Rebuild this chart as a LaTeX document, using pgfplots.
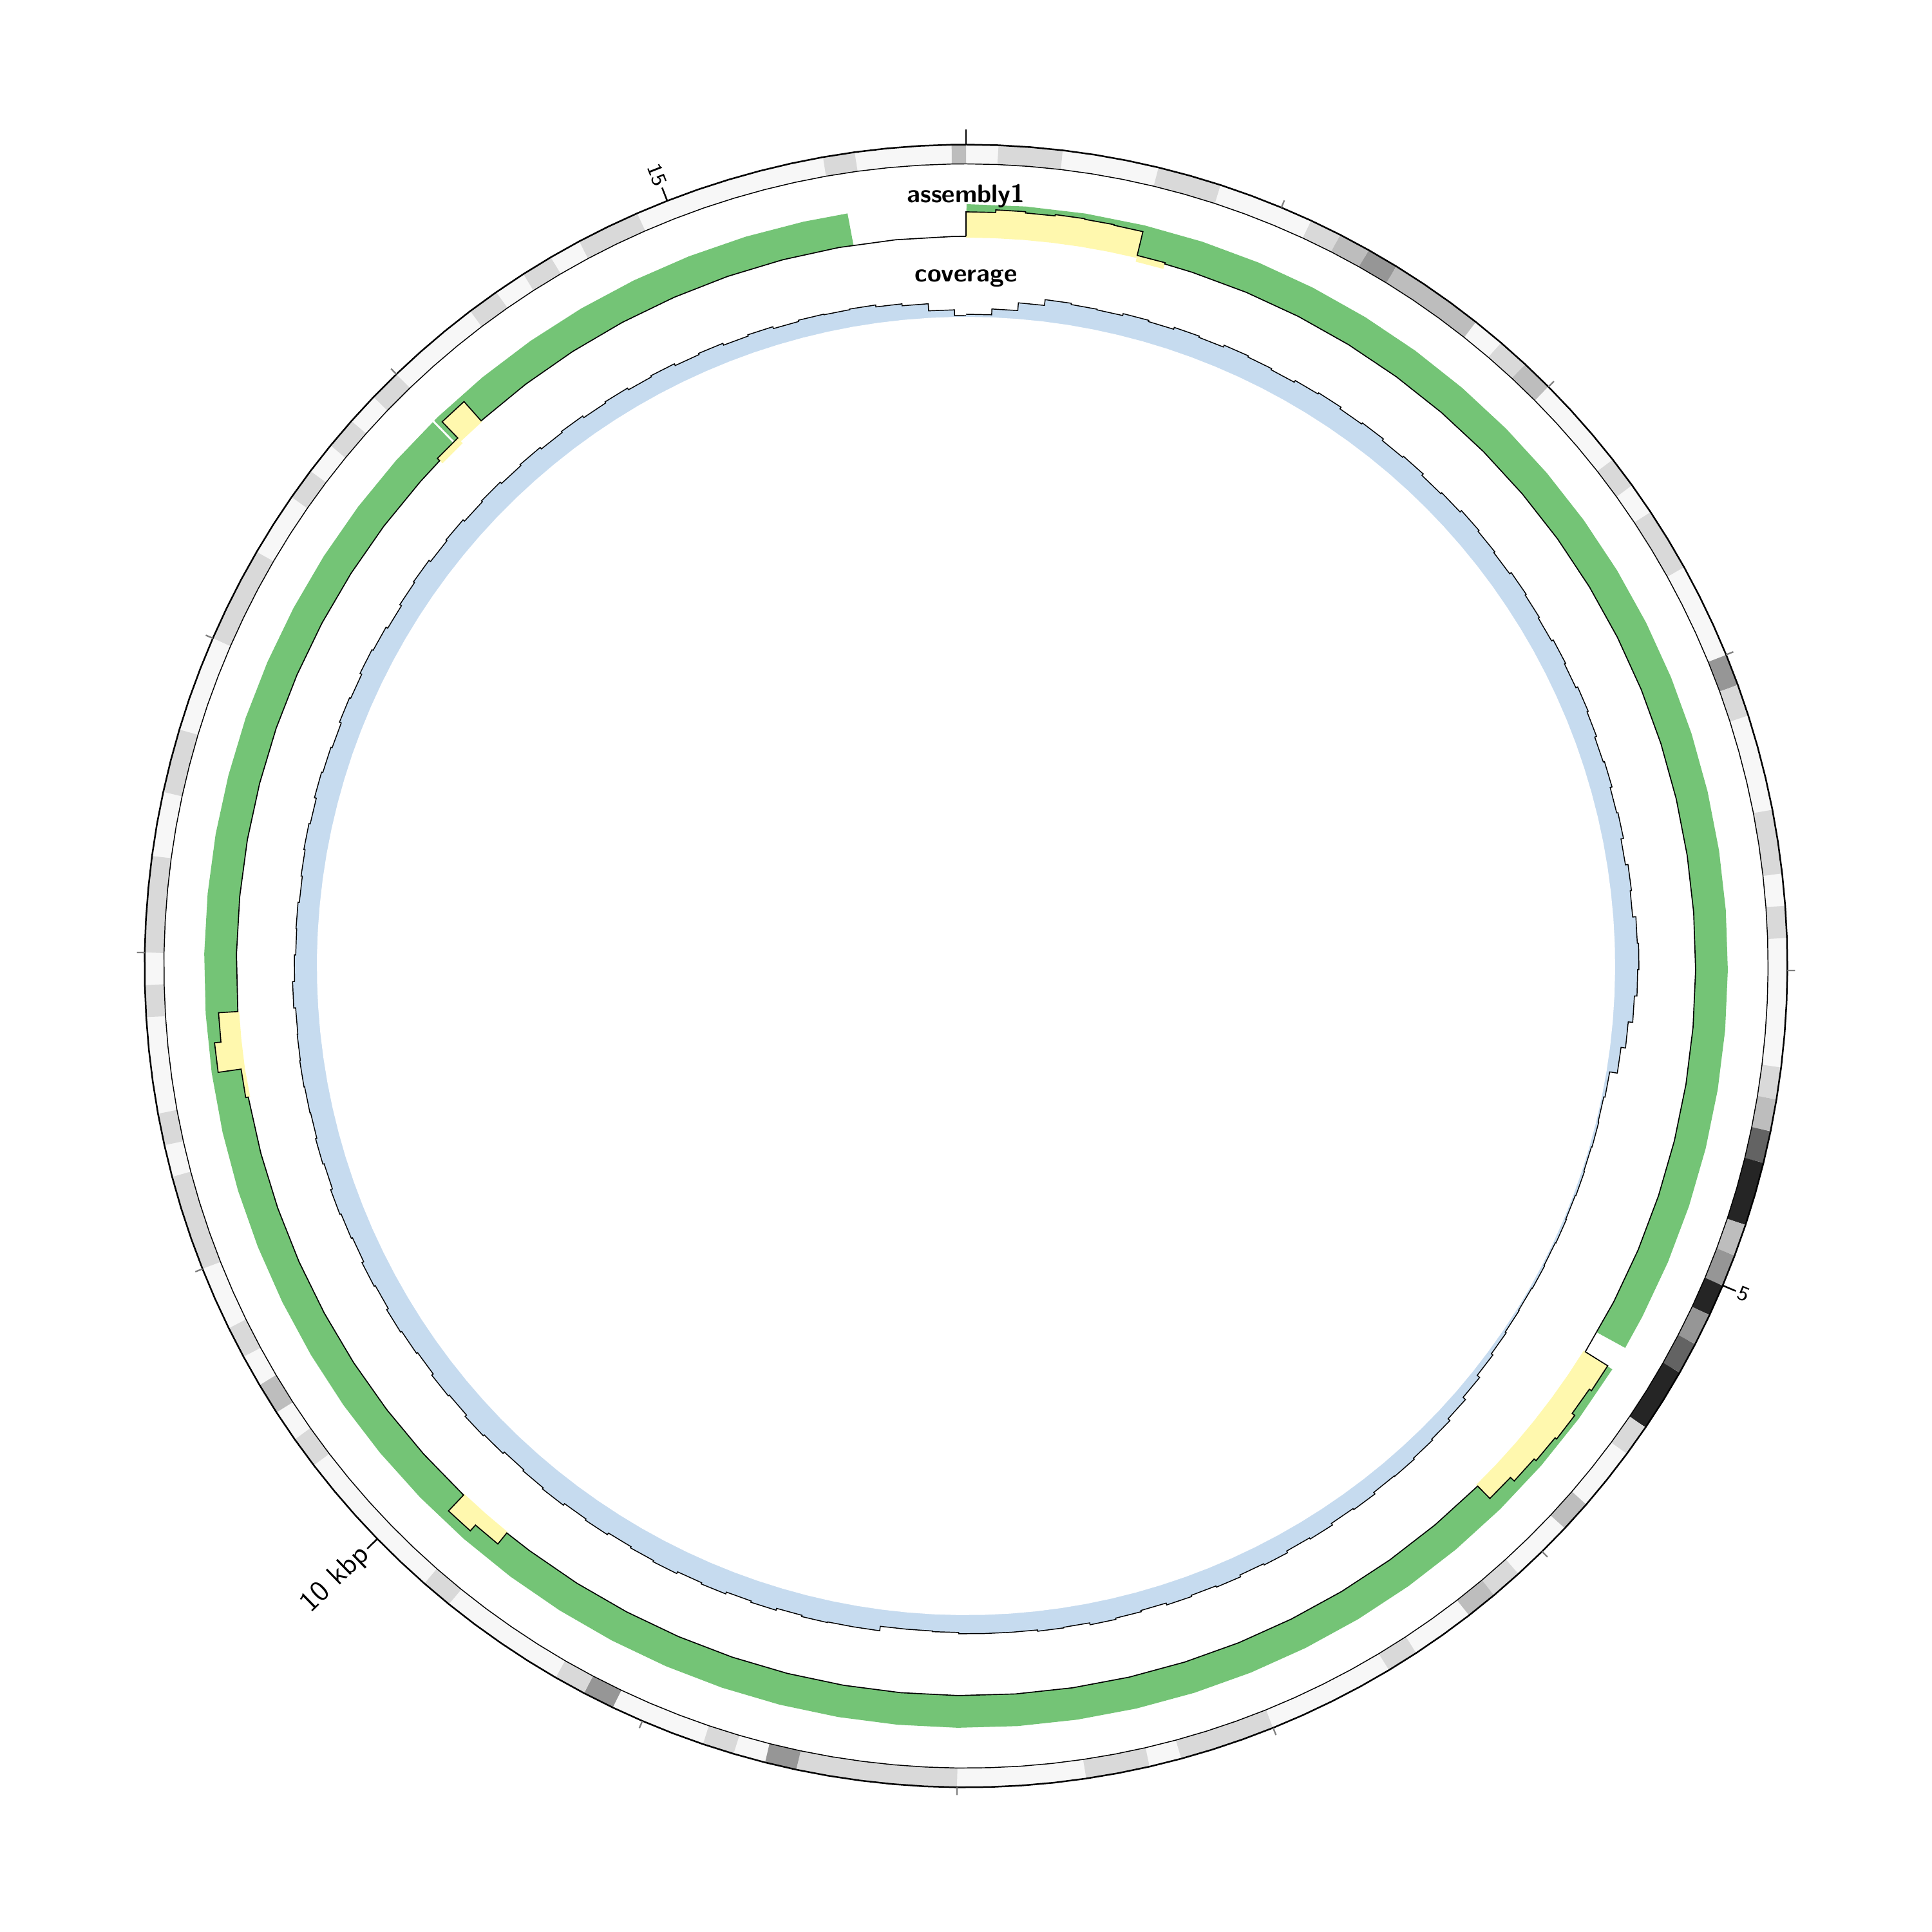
\documentclass[border=0pt]{standalone}
\usepackage{fontspec}
\usepackage{pgfplots}
\usepackage{pgfplotstable}
\pgfplotsset{compat=1.18}
\def\kfac{22.578}
\definecolor{gF}{HTML}{F7F7F7}
\definecolor{gD}{HTML}{D9D9D9}
\definecolor{gB}{HTML}{BDBDBD}
\definecolor{g9}{HTML}{969696}
\definecolor{g6}{HTML}{636363}
\definecolor{g2}{HTML}{252525}
\definecolor{grn}{HTML}{74C476}
\definecolor{yel}{HTML}{FFF8AE}
\definecolor{blu}{HTML}{C6DBEF}
\pgfplotsset{
  table/pr/.style={x expr={\thisrow{r}*sin(\thisrow{p}*\kfac)}, y expr={\thisrow{r}*cos(\thisrow{p}*\kfac)}},
  table/arc/.style={x index=0, y index=0, x expr={#1*sin(\thisrow{p}*\kfac)}, y expr={#1*cos(\thisrow{p}*\kfac)}},
}
\newcommand\seg[2]{\addplot[line width=7.2pt,#1] table[arc=1260.5,row sep=\\]{p\\#2};}
% positions (kbp) of 0.1-kbp bins
\pgfplotstableread[row sep=\\]{p\\
0\\0.1\\0.2\\0.3\\0.4\\0.5\\0.6\\0.7\\0.8\\0.9\\1.0\\1.1\\1.2\\1.3\\1.4\\1.5\\1.6\\1.7\\1.8\\1.9\\
2.0\\2.1\\2.2\\2.3\\2.4\\2.5\\2.6\\2.7\\2.8\\2.9\\3.0\\3.1\\3.2\\3.3\\3.4\\3.5\\3.6\\3.7\\3.8\\3.9\\
4.0\\4.1\\4.2\\4.3\\4.4\\4.5\\4.6\\4.7\\4.8\\4.9\\5.0\\5.1\\5.2\\5.3\\5.4\\5.5\\5.6\\5.7\\5.8\\5.9\\
6.0\\6.1\\6.2\\6.3\\6.4\\6.5\\6.6\\6.7\\6.8\\6.9\\7.0\\7.1\\7.2\\7.3\\7.4\\7.5\\7.6\\7.7\\7.8\\7.9\\
8.0\\8.1\\8.2\\8.3\\8.4\\8.5\\8.6\\8.7\\8.8\\8.9\\9.0\\9.1\\9.2\\9.3\\9.4\\9.5\\9.6\\9.7\\9.8\\9.9\\
10.0\\10.1\\10.2\\10.3\\10.4\\10.5\\10.6\\10.7\\10.8\\10.9\\11.0\\11.1\\11.2\\11.3\\11.4\\11.5\\11.6\\11.7\\11.8\\11.9\\
12.0\\12.1\\12.2\\12.3\\12.4\\12.5\\12.6\\12.7\\12.8\\12.9\\13.0\\13.1\\13.2\\13.3\\13.4\\13.5\\13.6\\13.7\\13.8\\13.9\\
14.0\\14.1\\14.2\\14.3\\14.4\\14.5\\14.6\\14.7\\14.8\\14.9\\15.0\\15.1\\15.2\\15.3\\15.4\\15.5\\15.6\\15.7\\15.8\\15.9\\15.945\\
}\ptab
% coverage step outline (radius of the histogram top)
\pgfplotstableread[row sep=\\]{p r\\
0 1012\\0.1 1012\\0.1 1021\\0.2 1021\\0.2 1033\\0.3 1033\\0.3 1042\\0.4 1042\\0.4 1040\\0.5 1040\\
0.5 1039\\0.6 1039\\0.6 1042\\0.7 1042\\0.7 1040\\0.8 1040\\0.8 1043\\0.9 1043\\0.9 1041\\1.0 1041\\
1.0 1044\\1.1 1044\\1.1 1042\\1.2 1042\\1.2 1040\\1.3 1040\\1.3 1043\\1.4 1043\\1.4 1045\\1.5 1045\\
1.5 1042\\1.6 1042\\1.6 1044\\1.7 1044\\1.7 1041\\1.8 1041\\1.8 1043\\1.9 1043\\1.9 1040\\2.0 1040\\
2.0 1042\\2.1 1042\\2.1 1045\\2.2 1045\\2.2 1043\\2.3 1043\\2.3 1041\\2.4 1041\\2.4 1044\\2.5 1044\\
2.5 1042\\2.6 1042\\2.6 1040\\2.7 1040\\2.7 1043\\2.8 1043\\2.8 1041\\2.9 1041\\2.9 1044\\3.0 1044\\
3.0 1042\\3.1 1042\\3.1 1039\\3.2 1039\\3.2 1041\\3.3 1041\\3.3 1038\\3.4 1038\\3.4 1040\\3.5 1040\\
3.5 1036\\3.6 1036\\3.6 1040\\3.7 1040\\3.7 1038\\3.8 1038\\3.8 1043\\3.9 1043\\3.9 1045\\4.0 1045\\
4.0 1043\\4.1 1043\\4.1 1039\\4.2 1039\\4.2 1032\\4.3 1032\\4.3 1025\\4.4 1025\\4.4 1013\\4.5 1013\\
4.5 1011\\4.6 1011\\4.6 1012\\4.7 1012\\4.7 1011\\4.8 1011\\4.8 1012\\4.9 1012\\4.9 1011\\5.0 1011\\
5.0 1012\\5.1 1012\\5.1 1011\\5.2 1011\\5.2 1012\\5.3 1012\\5.3 1011\\5.4 1011\\5.4 1012\\5.5 1012\\
5.5 1014\\5.6 1014\\5.6 1017\\5.7 1017\\5.7 1022\\5.8 1022\\5.8 1027\\5.9 1027\\5.9 1031\\6.0 1031\\
6.0 1033\\6.1 1033\\6.1 1035\\6.2 1035\\6.2 1034\\6.3 1034\\6.3 1037\\6.4 1037\\6.4 1035\\6.5 1035\\
6.5 1038\\6.6 1038\\6.6 1036\\6.7 1036\\6.7 1039\\6.8 1039\\6.8 1037\\6.9 1037\\6.9 1040\\7.0 1040\\
7.0 1038\\7.1 1038\\7.1 1040\\7.2 1040\\7.2 1037\\7.3 1037\\7.3 1039\\7.4 1039\\7.4 1041\\7.5 1041\\
7.5 1038\\7.6 1038\\7.6 1039\\7.7 1039\\7.7 1037\\7.8 1037\\7.8 1037\\7.9 1037\\7.9 1037\\8.0 1037\\
8.0 1035\\8.1 1035\\8.1 1034\\8.2 1034\\8.2 1034\\8.3 1034\\8.3 1041\\8.4 1041\\8.4 1041\\8.5 1041\\
8.5 1042\\8.6 1042\\8.6 1040\\8.7 1040\\8.7 1043\\8.8 1043\\8.8 1041\\8.9 1041\\8.9 1044\\9.0 1044\\
9.0 1042\\9.1 1042\\9.1 1045\\9.2 1045\\9.2 1043\\9.3 1043\\9.3 1041\\9.4 1041\\9.4 1044\\9.5 1044\\
9.5 1042\\9.6 1042\\9.6 1045\\9.7 1045\\9.7 1043\\9.8 1043\\9.8 1041\\9.9 1041\\9.9 1044\\10.0 1044\\
10.0 1046\\10.1 1046\\10.1 1043\\10.2 1043\\10.2 1045\\10.3 1045\\10.3 1042\\10.4 1042\\10.4 1044\\10.5 1044\\
10.5 1046\\10.6 1046\\10.6 1043\\10.7 1043\\10.7 1045\\10.8 1045\\10.8 1042\\10.9 1042\\10.9 1044\\11.0 1044\\
11.0 1046\\11.1 1046\\11.1 1043\\11.2 1043\\11.2 1045\\11.3 1045\\11.3 1043\\11.4 1043\\11.4 1044\\11.5 1044\\
11.5 1045\\11.6 1045\\11.6 1044\\11.7 1044\\11.7 1043\\11.8 1043\\11.8 1046\\11.9 1046\\11.9 1043\\12.0 1043\\
12.0 1041\\12.1 1041\\12.1 1042\\12.2 1042\\12.2 1040\\12.3 1040\\12.3 1042\\12.4 1042\\12.4 1044\\12.5 1044\\
12.5 1042\\12.6 1042\\12.6 1045\\12.7 1045\\12.7 1043\\12.8 1043\\12.8 1041\\12.9 1041\\12.9 1044\\13.0 1044\\
13.0 1042\\13.1 1042\\13.1 1045\\13.2 1045\\13.2 1043\\13.3 1043\\13.3 1040\\13.4 1040\\13.4 1043\\13.5 1043\\
13.5 1045\\13.6 1045\\13.6 1042\\13.7 1042\\13.7 1044\\13.8 1044\\13.8 1041\\13.9 1041\\13.9 1043\\14.0 1043\\
14.0 1040\\14.1 1040\\14.1 1042\\14.2 1042\\14.2 1039\\14.3 1039\\14.3 1041\\14.4 1041\\14.4 1038\\14.5 1038\\
14.5 1040\\14.6 1040\\14.6 1037\\14.7 1037\\14.7 1039\\14.8 1039\\14.8 1036\\14.9 1036\\14.9 1038\\15.0 1038\\
15.0 1035\\15.1 1035\\15.1 1037\\15.2 1037\\15.2 1034\\15.3 1034\\15.3 1036\\15.4 1036\\15.4 1035\\15.5 1035\\
15.5 1036\\15.6 1036\\15.6 1033\\15.7 1033\\15.7 1030\\15.8 1030\\15.8 1019\\15.9 1019\\15.9 1010\\15.945 1010\\
}\covtab
% assembly1 track: step line (value radius)
\pgfplotstableread[row sep=\\]{p r\\
0 1133\\0 1171\\0.1 1171\\0.1 1175\\0.2 1175\\0.2 1173\\0.3 1173\\0.3 1175\\0.4 1175\\0.4 1174\\0.5 1174\\0.5 1173\\0.6 1173\\0.6 1135\\0.7 1135\\0.7 1133\\
0.8 1133\\1.0 1133\\1.2 1133\\1.4 1133\\1.6 1133\\1.8 1133\\2.0 1133\\2.2 1133\\2.4 1133\\2.6 1133\\2.8 1133\\3.0 1133\\3.2 1133\\3.4 1133\\3.6 1133\\3.8 1133\\4.0 1133\\4.2 1133\\4.4 1133\\4.6 1133\\4.8 1133\\5.0 1133\\5.2 1133\\5.4 1133\\
5.4 1174\\5.5 1174\\5.5 1170\\5.6 1170\\5.6 1175\\5.7 1175\\5.7 1172\\5.8 1172\\5.8 1168\\5.9 1168\\5.9 1160\\6.0 1160\\6.0 1133\\
6.2 1133\\6.4 1133\\6.6 1133\\6.8 1133\\7.0 1133\\7.2 1133\\7.4 1133\\7.6 1133\\7.8 1133\\8.0 1133\\8.2 1133\\8.4 1133\\8.6 1133\\8.8 1133\\9.0 1133\\9.2 1133\\9.4 1133\\9.6 1133\\9.7 1133\\
9.7 1155\\9.8 1155\\9.8 1167\\9.9 1167\\9.9 1133\\
10.1 1133\\10.3 1133\\10.5 1133\\10.7 1133\\10.9 1133\\11.1 1133\\11.3 1133\\11.5 1133\\
11.5 1137\\11.6 1137\\11.6 1173\\11.7 1173\\11.7 1163\\11.8 1163\\11.8 1133\\
12.0 1133\\12.2 1133\\12.4 1133\\12.6 1133\\12.8 1133\\13.0 1133\\13.2 1133\\13.4 1133\\13.6 1133\\13.8 1133\\13.9 1133\\
13.9 1138\\14.0 1138\\14.0 1173\\14.1 1173\\14.1 1133\\
14.3 1133\\14.5 1133\\14.7 1133\\14.9 1133\\15.1 1133\\15.3 1133\\15.5 1133\\15.7 1133\\15.9 1133\\15.945 1133\\
}\vtab
\begin{document}
\begin{tikzpicture}
\begin{axis}[width=720pt, height=720pt, scale only axis,
  xmin=-1500, xmax=1500, ymin=-1500, ymax=1500,
  hide axis, clip=false, no markers]
\addplot[draw=none] coordinates {(-1500,-1500) (1500,1500)};
% ---- outer GC-like band ----
\addplot[line width=7.2pt, gF] table[arc=1260.5] {\ptab};
\seg{gD}{0.1\\0.2\\0.3\\}
\seg{gD}{0.6\\0.7\\0.8\\}
\seg{gD}{1.1\\1.2\\}
\seg{gB}{1.2\\1.3\\}
\seg{g9}{1.3\\1.4\\}
\seg{gB}{1.4\\1.5\\1.6\\1.7\\}
\seg{gD}{1.8\\1.9\\}
\seg{gB}{1.9\\2.0\\}
\seg{gD}{2.3\\2.4\\}
\seg{gD}{2.5\\2.6\\2.7\\}
\seg{g9}{3.0\\3.1\\}
\seg{gD}{3.1\\3.2\\}
\seg{gD}{3.5\\3.6\\3.7\\}
\seg{gD}{3.8\\3.9\\}
\seg{gD}{4.3\\4.4\\}
\seg{gB}{4.4\\4.5\\}
\seg{g6}{4.5\\4.6\\}
\seg{g2}{4.6\\4.7\\4.8\\}
\seg{gB}{4.8\\4.9\\}
\seg{g9}{4.9\\5.0\\}
\seg{g2}{5.0\\5.1\\}
\seg{g9}{5.1\\5.2\\}
\seg{g6}{5.2\\5.3\\}
\seg{g2}{5.3\\5.4\\5.5\\}
\seg{gD}{5.5\\5.6\\}
\seg{gB}{5.8\\5.9\\}
\seg{gD}{6.1\\6.2\\}
\seg{gB}{6.2\\6.3\\}
\seg{gD}{6.5\\6.6\\}
\seg{gD}{7.0\\7.1\\7.2\\7.3\\}
\seg{gD}{7.4\\7.5\\7.6\\}
\seg{gD}{8.0\\8.1\\8.2\\8.3\\8.4\\8.5\\}
\seg{g9}{8.5\\8.6\\}
\seg{gD}{8.7\\8.8\\}
\seg{g9}{9.1\\9.2\\}
\seg{gD}{9.2\\9.3\\}
\seg{gD}{9.7\\9.8\\}
\seg{gD}{10.3\\10.4\\}
\seg{gB}{10.5\\10.6\\}
\seg{gD}{10.7\\10.8\\}
\seg{gD}{11.0\\11.1\\11.2\\11.3\\}
\seg{gD}{11.4\\11.5\\}
\seg{gD}{11.8\\11.9\\}
\seg{gD}{12.0\\12.1\\12.2\\12.3\\}
\seg{gD}{12.5\\12.6\\12.7\\}
\seg{gD}{13.0\\13.1\\13.2\\13.3\\}
\seg{gD}{13.5\\13.6\\}
\seg{gD}{13.7\\13.8\\}
\seg{gD}{13.9\\14.0\\}
\seg{gD}{14.3\\14.4\\}
\seg{gD}{14.5\\14.6\\}
\seg{gD}{14.7\\14.8\\14.9\\}
\seg{gD}{15.5\\15.6\\}
\seg{gB}{15.9\\15.945\\}
\addplot[black, line width=0.6pt] table[arc=1275.5] {\ptab};
\addplot[black, line width=0.35pt] table[arc=1245.5] {\ptab};
% ---- ticks ----
\addplot[gray, line width=0.55pt, quiver={u=\thisrow{l}*sin(\thisrow{p}*\kfac), v=\thisrow{l}*cos(\thisrow{p}*\kfac)}]
  table[x expr={1275.5*sin(\thisrow{p}*\kfac)}, y expr={1275.5*cos(\thisrow{p}*\kfac)}, row sep=\\] {p l\\1 12\\2 12\\3 12\\4 12\\6 12\\7 12\\8 12\\9 12\\11 12\\12 12\\13 12\\14 12\\};
\addplot[black, line width=0.6pt, quiver={u=\thisrow{l}*sin(\thisrow{p}*\kfac), v=\thisrow{l}*cos(\thisrow{p}*\kfac)}]
  table[x expr={1275.5*sin(\thisrow{p}*\kfac)}, y expr={1275.5*cos(\thisrow{p}*\kfac)}, row sep=\\] {p l\\0 23\\5 22\\10 22\\15 22\\};
% ---- assembly1 track ----
\addplot[grn, line width=12pt] table[arc=1158, row sep=\\] {p\\0\\0.2\\0.4\\0.6\\0.8\\1.0\\1.2\\1.4\\1.6\\1.8\\2.0\\2.2\\2.4\\2.6\\2.8\\3.0\\3.2\\3.4\\3.6\\3.8\\4.0\\4.2\\4.4\\4.6\\4.8\\5.0\\5.2\\5.32\\};
\addplot[grn, line width=12pt] table[arc=1158, row sep=\\] {p\\5.4\\5.6\\5.8\\6.0\\6.2\\6.4\\6.6\\6.8\\7.0\\7.2\\7.4\\7.6\\7.8\\8.0\\8.2\\8.4\\8.6\\8.8\\9.0\\9.2\\9.4\\9.6\\9.8\\10.0\\10.2\\10.4\\10.6\\10.8\\11.0\\11.2\\11.4\\11.6\\11.8\\12.0\\12.2\\12.4\\12.6\\12.8\\13.0\\13.2\\13.4\\13.6\\13.8\\14.0\\14.2\\14.4\\14.6\\14.8\\15.0\\15.2\\15.4\\15.55\\};
\addplot[fill=yel, draw=none] table[pr, row sep=\\] {p r\\0 1131\\0 1171\\0.1 1171\\0.1 1175\\0.2 1175\\0.2 1173\\0.3 1173\\0.3 1175\\0.4 1175\\0.4 1174\\0.5 1174\\0.5 1173\\0.6 1173\\0.6 1135\\0.7 1135\\0.7 1125\\0.6 1125\\0.6 1131\\0.5 1131\\0.4 1131\\0.3 1131\\0.2 1131\\0.1 1131\\};
\addplot[fill=yel, draw=none] table[pr, row sep=\\] {p r\\5.4 1130\\5.4 1174\\5.5 1174\\5.5 1170\\5.6 1170\\5.6 1175\\5.7 1175\\5.7 1172\\5.8 1172\\5.8 1168\\5.9 1168\\5.9 1160\\6.0 1160\\6.0 1130\\5.9 1130\\5.8 1130\\5.7 1130\\5.6 1130\\5.5 1130\\};
\addplot[fill=yel, draw=none] table[pr, row sep=\\] {p r\\9.7 1131\\9.7 1155\\9.8 1155\\9.8 1167\\9.9 1167\\9.9 1131\\9.8 1131\\};
\addplot[fill=yel, draw=none] table[pr, row sep=\\] {p r\\11.5 1130\\11.5 1137\\11.6 1137\\11.6 1173\\11.7 1173\\11.7 1163\\11.8 1163\\11.8 1131\\11.7 1131\\11.6 1131\\};
\addplot[fill=yel, draw=none] table[pr, row sep=\\] {p r\\13.9 1127\\13.9 1138\\14.0 1138\\14.0 1173\\14.1 1173\\14.1 1131\\14.0 1131\\14.0 1127\\};
\addplot[black, line width=0.4pt] table[pr] {\vtab};
\addplot[white, line width=0.7pt] table[pr, row sep=\\] {p r\\13.98 1139\\13.98 1186\\};
% ---- coverage track ----
\addplot[fill=blu, draw=none] table[pr] {\covtab};
\addplot[fill=white, draw=none] table[arc=1008] {\ptab};
\addplot[black, line width=0.35pt] table[pr] {\covtab};
% ---- labels ----
\node[anchor=base, font=\fontsize{9.5}{11}\selectfont\sffamily\bfseries] at (axis cs:0,1185) {assembly1};
\node[anchor=base, font=\fontsize{9.5}{11}\selectfont\sffamily\bfseries] at (axis cs:0,1062) {coverage};
\node[anchor=west, inner sep=0pt, rotate=-22.89, font=\fontsize{7.8}{9}\selectfont\sffamily] at (axis cs:1198.5,-506.1) {5};
\node[anchor=east, inner sep=0pt, rotate=44.22, font=\fontsize{10.8}{12}\selectfont\sffamily] at (axis cs:-932.5,-907.2) {10 kbp};
\node[anchor=east, inner sep=0pt, rotate=-68.67, font=\fontsize{7.8}{9}\selectfont\sffamily] at (axis cs:-473.2,1211.9) {15};
\end{axis}
\end{tikzpicture}
\end{document}
